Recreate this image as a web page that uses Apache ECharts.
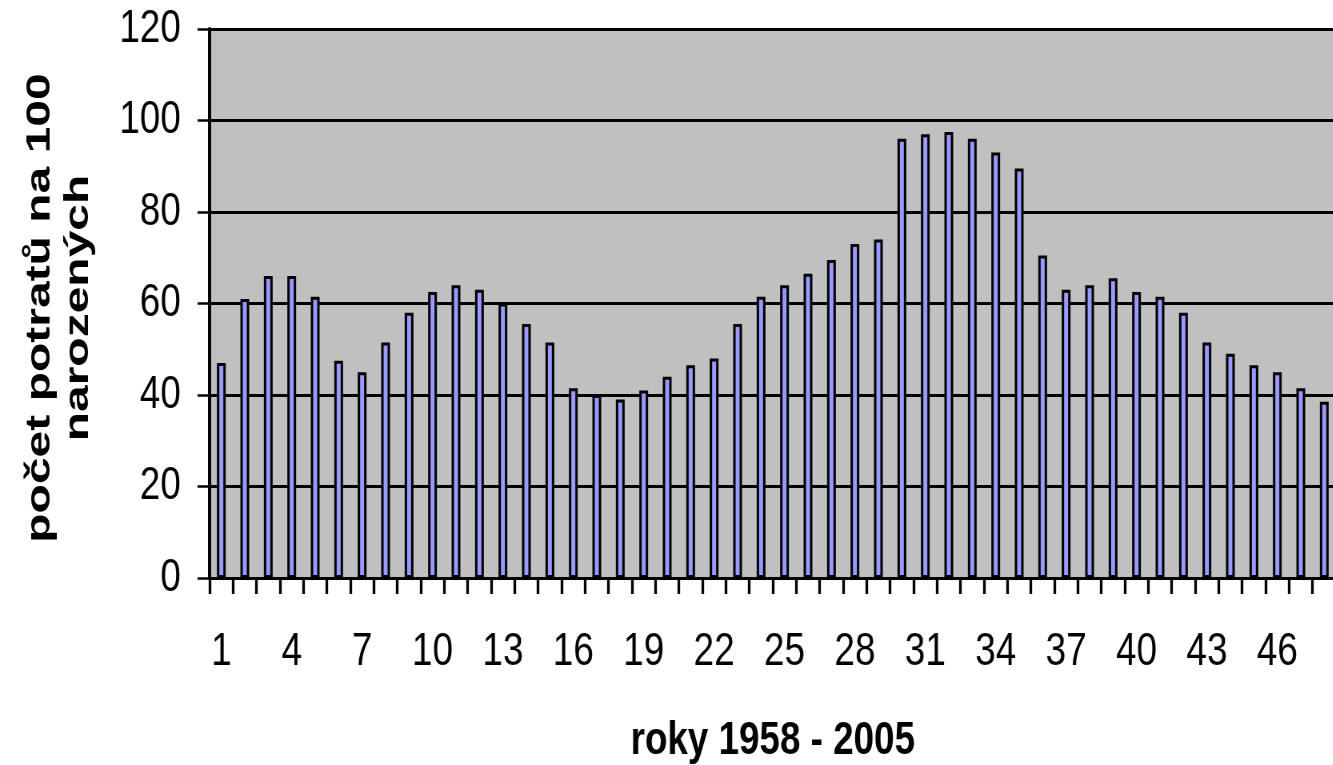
<!DOCTYPE html>
<html>
<head>
<meta charset="utf-8">
<script src="https://cdn.jsdelivr.net/npm/echarts@6/dist/echarts.min.js"></script>
<style>
  html, body { margin: 0; padding: 0; background: #ffffff; overflow: hidden; }
  /* chart is laid out wider and condensed horizontally, giving tall narrow lettering */
  #chart { position: absolute; left: 0; top: 0; width: 1666px; height: 765px; transform: scaleX(0.8); transform-origin: 0 0; }
</style>
</head>
<body>
<div id="chart"></div>
<script>
// Year index 1..48 (1958 - 2005)
const years = ['1','2','3','4','5','6','7','8','9','10','11','12','13','14','15','16',
  '17','18','19','20','21','22','23','24','25','26','27','28','29','30','31','32',
  '33','34','35','36','37','38','39','40','41','42','43','44','45','46','47','48'];

// Abortions per 100 live births
const abortionsPer100 = [47, 61, 66, 66, 61.5, 47.5, 45, 51.5, 58, 62.5,
  64, 63, 60, 55.5, 51.5, 41.5, 40, 39, 41, 44,
  46.5, 48, 55.5, 61.5, 64, 66.5, 69.5, 73, 74, 96,
  97, 97.5, 96, 93, 89.5, 70.5, 63, 64, 65.5, 62.5,
  61.5, 58, 51.5, 49, 46.5, 45, 41.5, 38.5];

const yTitle = 'počet potratů na 100\nnarozených';
const xTitle = 'roky 1958 - 2005';

const sans = '"Liberation Sans", Arial, sans-serif';

const chart = echarts.init(document.getElementById('chart'), null, { renderer: 'canvas' });

chart.setOption({
  animation: false,
  backgroundColor: '#ffffff',
  grid: {
    left: 262, top: 29, width: 1408, height: 549,
    outerBoundsMode: 'none',
    containLabel: false,
    show: true,
    backgroundColor: '#C0C0C0',
    borderColor: '#808080',
    borderWidth: 2
  },
  xAxis: {
    type: 'category',
    data: years,
    boundaryGap: true,
    axisLine: { show: true, lineStyle: { color: '#000', width: 3 } },
    axisTick: { show: true, interval: 0, length: 16, lineStyle: { color: '#000', width: 3.3 } },
    axisLabel: { interval: 2, margin: 51, color: '#000', fontSize: 46, fontFamily: sans },
    splitLine: { show: false },
    name: xTitle,
    nameLocation: 'middle',
    nameGap: 140,
    nameTextStyle: { color: '#000', fontSize: 46, fontWeight: 'bold', fontFamily: sans }
  },
  yAxis: {
    type: 'value',
    min: 0, max: 120, interval: 20,
    axisLine: { show: true, lineStyle: { color: '#000', width: 4 } },
    axisTick: { show: true, length: 15, lineStyle: { color: '#000', width: 2.5 } },
    axisLabel: { margin: 36, color: '#000', fontSize: 46, fontFamily: sans },
    splitLine: { show: true, lineStyle: { color: '#000', width: 3 } }
  },
  graphic: [{
    type: 'text',
    x: 74, y: 308,
    rotation: Math.PI / 2,
    scaleY: 0.9,
    style: {
      text: yTitle,
      font: 'bold 48px "Liberation Sans", Arial, sans-serif',
      fill: '#000',
      align: 'center', verticalAlign: 'middle',
      textAlign: 'center', textVerticalAlign: 'middle',
      lineHeight: 54
    }
  }],
  series: [{
    type: 'bar',
    data: abortionsPer100,
    barWidth: 11,
    itemStyle: { color: '#9999FF', borderColor: '#000', borderWidth: 3 }
  }]
});
</script>
</body>
</html>
